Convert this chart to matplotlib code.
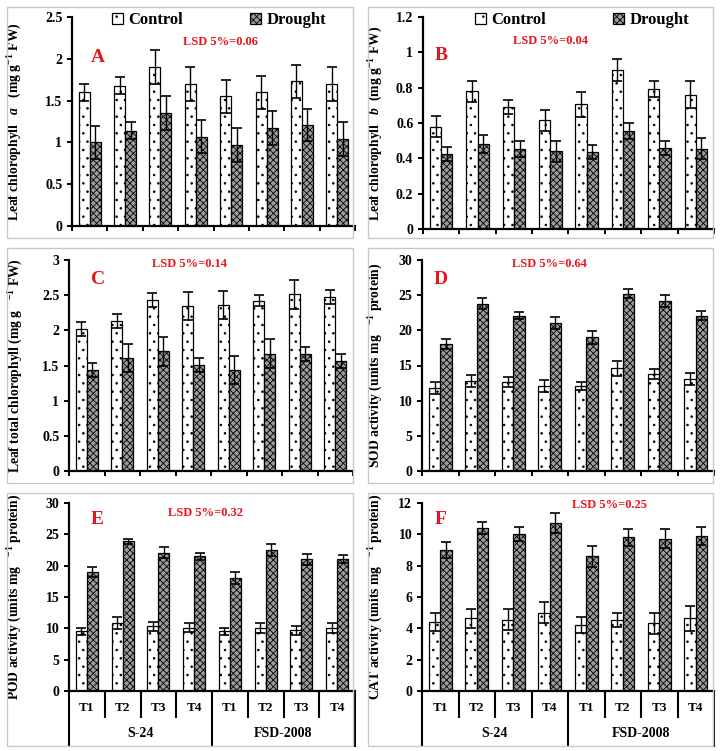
import matplotlib
matplotlib.use('Agg')
import matplotlib.pyplot as plt
from matplotlib.patches import Rectangle
from matplotlib.ticker import FuncFormatter, FixedLocator
import numpy as np

plt.rcParams['font.family'] = 'Liberation Serif'
plt.rcParams['font.weight'] = 'bold'
plt.rcParams['mathtext.fontset'] = 'custom'
plt.rcParams['mathtext.rm'] = 'Liberation Serif:bold'
plt.rcParams['mathtext.bf'] = 'Liberation Serif:bold'
plt.rcParams['mathtext.it'] = 'Liberation Serif:bold:italic'
plt.rcParams['hatch.linewidth'] = 0.6

treatments = ['T1', 'T2', 'T3', 'T4', 'T1', 'T2', 'T3', 'T4']
cultivars = ['S-24', 'FSD-2008']

chl_a_control = [1.60, 1.68, 1.90, 1.70, 1.55, 1.60, 1.73, 1.70]
chl_a_control_err = [0.10, 0.10, 0.20, 0.20, 0.20, 0.20, 0.20, 0.20]
chl_a_drought = [1.00, 1.14, 1.35, 1.07, 0.97, 1.17, 1.21, 1.04]
chl_a_drought_err = [0.20, 0.10, 0.20, 0.20, 0.20, 0.20, 0.19, 0.20]

chl_b_control = [0.58, 0.78, 0.69, 0.615, 0.705, 0.90, 0.79, 0.76]
chl_b_control_err = [0.06, 0.06, 0.04, 0.06, 0.07, 0.065, 0.045, 0.075]
chl_b_drought = [0.425, 0.48, 0.455, 0.44, 0.435, 0.555, 0.46, 0.455]
chl_b_drought_err = [0.04, 0.05, 0.045, 0.06, 0.04, 0.045, 0.04, 0.06]

total_control = [2.02, 2.13, 2.43, 2.34, 2.36, 2.42, 2.51, 2.48]
total_control_err = [0.10, 0.10, 0.10, 0.20, 0.20, 0.08, 0.20, 0.10]
total_drought = [1.43, 1.61, 1.70, 1.51, 1.43, 1.67, 1.67, 1.56]
total_drought_err = [0.10, 0.20, 0.20, 0.10, 0.20, 0.20, 0.10, 0.10]

sod_control = [11.8, 12.8, 12.6, 12.1, 12.1, 14.6, 13.8, 13.1]
sod_control_err = [0.8, 0.85, 0.7, 0.85, 0.6, 1.1, 0.7, 0.85]
sod_drought = [18.0, 23.8, 22.1, 21.1, 19.0, 25.2, 24.2, 22.1]
sod_drought_err = [0.7, 0.8, 0.5, 0.85, 0.9, 0.67, 0.85, 0.66]

pod_control = [9.5, 10.8, 10.3, 10.1, 9.5, 10.0, 9.7, 10.0]
pod_control_err = [0.5, 0.95, 0.7, 0.7, 0.5, 0.8, 0.7, 0.8]
pod_drought = [19.0, 23.9, 22.1, 21.5, 18.1, 22.5, 21.0, 21.0]
pod_drought_err = [0.75, 0.4, 0.85, 0.6, 0.95, 0.9, 0.85, 0.65]

cat_control = [4.4, 4.65, 4.56, 5.0, 4.2, 4.56, 4.33, 4.65]
cat_control_err = [0.55, 0.6, 0.68, 0.66, 0.5, 0.45, 0.68, 0.8]
cat_drought = [9.0, 10.43, 10.04, 10.72, 8.6, 9.8, 9.72, 9.89]
cat_drought_err = [0.5, 0.38, 0.45, 0.66, 0.66, 0.53, 0.62, 0.6]

W, H = 722, 751
fig = plt.figure(figsize=(W / 100, H / 100), dpi=100)

# gray panel frames (pixels: x0, y0, x1, y1)
for x0, y0, x1, y1 in [(7, 7, 353, 238), (368, 7, 713, 238),
                       (7, 248, 353, 483), (368, 248, 713, 483),
                       (7, 493, 353, 746), (368, 493, 713, 746)]:
    fig.add_artist(Rectangle((x0 / W, 1 - y1 / H), (x1 - x0) / W, (y1 - y0) / H,
                             transform=fig.transFigure, fill=False,
                             edgecolor='#c8c8c8', linewidth=1))


def make_ax(l, t, r, b):
    return fig.add_axes([l / W, 1 - b / H, (r - l) / W, (b - t) / H])


fmt = FuncFormatter(lambda v, p: '%g' % v)
x = np.arange(8) + 0.5
bw = 0.31


def panel(ax, ctrl, ctrl_err, drt, drt_err, ymax, ystep, ylabel, lab_dx,
          letter, letter_xy, lsd, lsd_xy, bottom_table=False):
    ax.bar(x - bw / 2, ctrl, bw, color='white', edgecolor='black',
           linewidth=0.9, hatch='..', label='Control')
    ax.errorbar(x - bw / 2, ctrl, yerr=ctrl_err, fmt='none', ecolor='black',
                elinewidth=1, capsize=3.4, capthick=1.2)
    ax.bar(x + bw / 2, drt, bw, color='#9c9c9c', edgecolor='black',
           linewidth=0.9, hatch='xxxxx', label='Drought')
    ax.errorbar(x + bw / 2, drt, yerr=drt_err, fmt='none', ecolor='black',
                elinewidth=1, capsize=3.4, capthick=1.2)
    ax.set_xlim(0, 8)
    ax.set_ylim(0, ymax)
    ax.set_yticks(np.arange(0, ymax + ystep / 2, ystep))
    ax.yaxis.set_major_formatter(fmt)
    ax.spines['top'].set_visible(False)
    ax.spines['right'].set_visible(False)
    ax.spines['left'].set_linewidth(1.6)
    ax.spines['bottom'].set_linewidth(1.6)
    ax.tick_params(axis='y', labelsize=10, width=1.4, length=3.5, direction='out')
    if bottom_table:
        ax.xaxis.set_major_locator(FixedLocator([0, 4, 8]))
        ax.xaxis.set_minor_locator(FixedLocator([1, 2, 3, 5, 6, 7]))
        ax.tick_params(axis='x', which='major', length=40, width=1.5)
        ax.tick_params(axis='x', which='minor', length=19.5, width=1.5)
        ax.set_xticklabels([])
        tr = ax.get_xaxis_transform()
        for xi, t in zip(x, treatments):
            ax.text(xi, -0.09, t, transform=tr, ha='center', va='center', fontsize=9.5)
        for gi, c in enumerate(cultivars):
            ax.text(2 + 4 * gi, -0.225, c, transform=tr, ha='center',
                    va='center', fontsize=10)
    else:
        ax.set_xticks(np.arange(9))
        ax.set_xticklabels([])
        ax.tick_params(axis='x', length=3.5, width=1.4)
    ax.set_ylabel(ylabel, fontsize=9.8, fontweight='bold')
    ax.yaxis.label.set_va('center')
    ax.yaxis.set_label_coords(lab_dx, 0.5)
    ax.text(letter_xy[0], letter_xy[1], letter, transform=ax.transAxes,
            color='#e8141c', fontsize=14, ha='center', va='center')
    ax.text(lsd_xy[0], lsd_xy[1], lsd, transform=ax.transAxes,
            color='#e8141c', fontsize=9, ha='center', va='center')


def frac(ax_box, px, py):
    l, t, r, b = ax_box
    return ((px - l) / (r - l), (b - py) / (b - t))


boxA = (72, 17, 355, 226)
boxB = (423, 17, 714, 229)
boxC = (69, 260, 353, 471)
boxD = (422, 260, 714, 471)
boxE = (69, 503, 355, 691)
boxF = (422, 503, 714, 691)

axA = make_ax(*boxA)
axB = make_ax(*boxB)
axC = make_ax(*boxC)
axD = make_ax(*boxD)
axE = make_ax(*boxE)
axF = make_ax(*boxF)

panel(axA, chl_a_control, chl_a_control_err, chl_a_drought, chl_a_drought_err,
      2.5, 0.5, r'Leaf chlorophyll   $a$   (mg g$^{-1}$ FW)', (15 - 72) / 283,
      'A', frac(boxA, 98, 57), 'LSD 5%=0.06', frac(boxA, 220, 42))
panel(axB, chl_b_control, chl_b_control_err, chl_b_drought, chl_b_drought_err,
      1.2, 0.2, r'Leaf chlorophyll   $b$  (mg g$^{-1}$ FW)', (376 - 423) / 291,
      'B', frac(boxB, 441, 55), 'LSD 5%=0.04', frac(boxB, 551, 41))
panel(axC, total_control, total_control_err, total_drought, total_drought_err,
      3, 0.5, r'Leaf total chlorophyll (mg g   $^{-1}$ FW)', (16 - 69) / 284,
      'C', frac(boxC, 98, 280), 'LSD 5%=0.14', frac(boxC, 190, 264))
panel(axD, sod_control, sod_control_err, sod_drought, sod_drought_err,
      30, 5, r'SOD activity (units mg   $^{-1}$ protein)', (376 - 422) / 292,
      'D', frac(boxD, 441, 280), 'LSD 5%=0.64', frac(boxD, 549, 264))
panel(axE, pod_control, pod_control_err, pod_drought, pod_drought_err,
      30, 5, r'POD activity (units mg   $^{-1}$ protein)', (15 - 69) / 286,
      'E', frac(boxE, 97, 520), 'LSD 5%=0.32', frac(boxE, 206, 513), bottom_table=True)
panel(axF, cat_control, cat_control_err, cat_drought, cat_drought_err,
      12, 2, r'CAT activity (units mg   $^{-1}$ protein)', (376 - 422) / 292,
      'F', frac(boxF, 441, 519), 'LSD 5%=0.25', frac(boxF, 610, 505), bottom_table=True)

for ax, box, lx in [(axA, boxA, 112), (axB, boxB, 475)]:
    ax.legend(loc='upper left', bbox_to_anchor=frac(box, lx, 12), ncol=2,
              frameon=False, fontsize=12, handlelength=0.65, handleheight=0.65,
              handletextpad=0.35, columnspacing=4.0, borderpad=0, borderaxespad=0)

fig.savefig('out.png', dpi=100, facecolor='white')
